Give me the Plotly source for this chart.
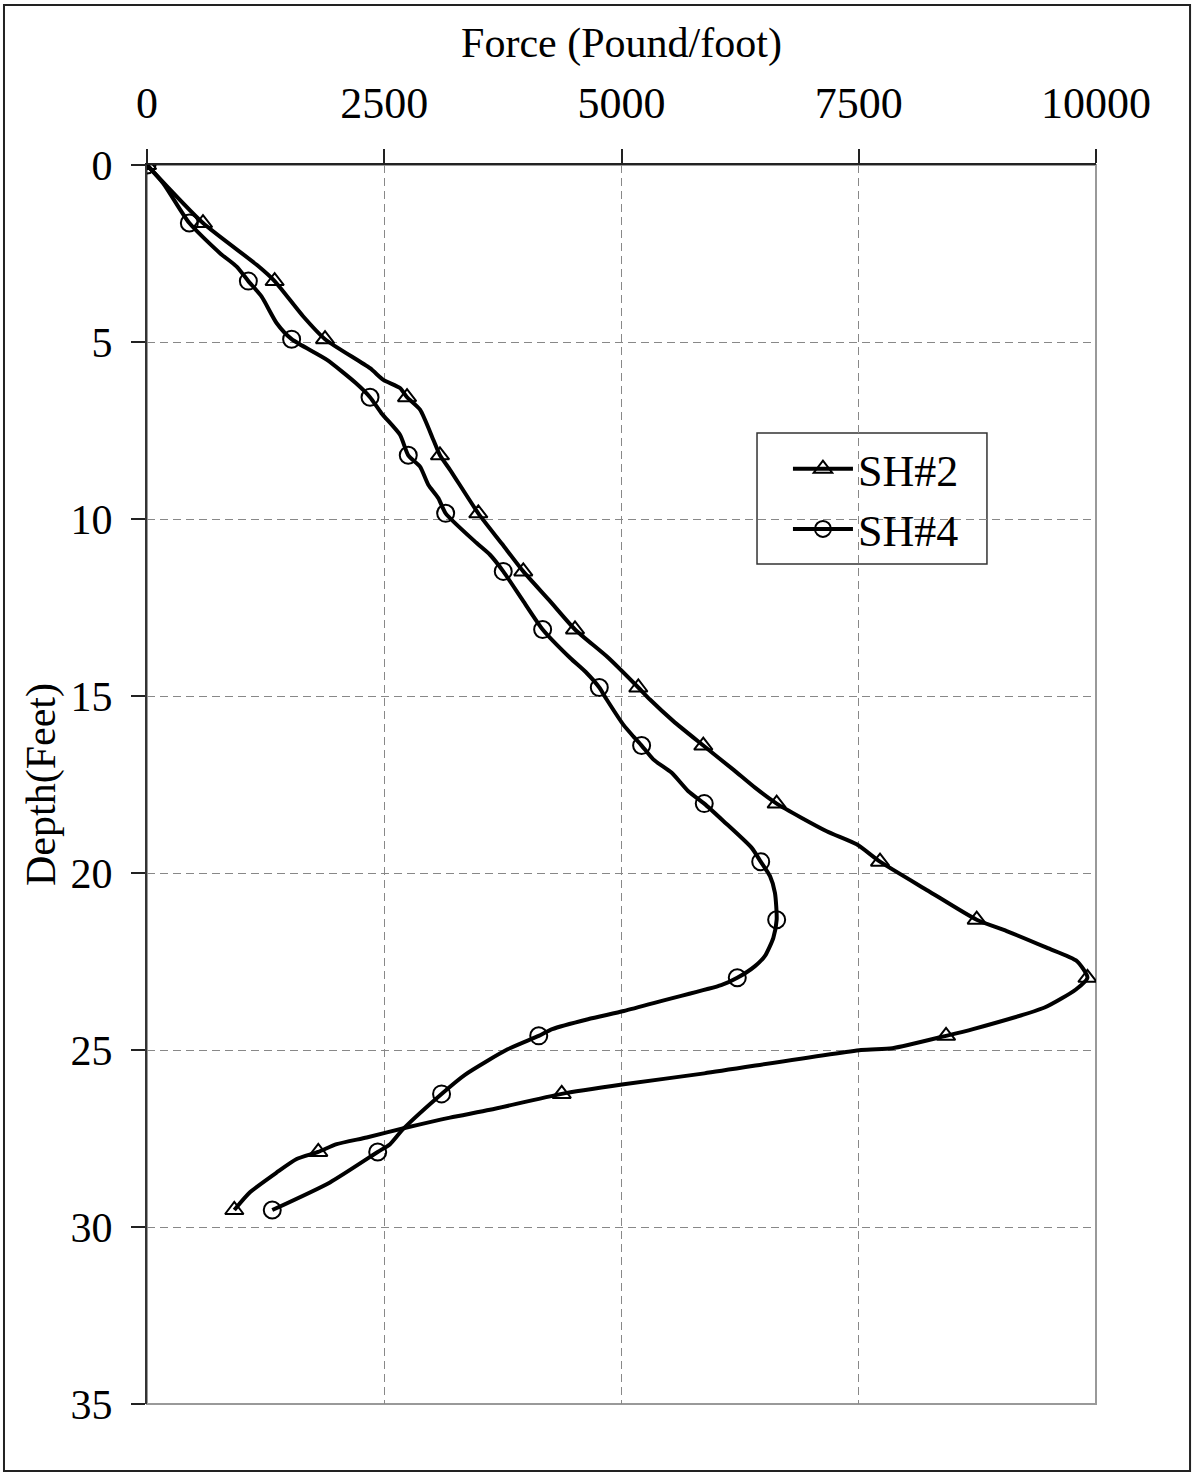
import plotly.graph_objects as go

# ---- data ----
# curve points (dense) for SH#2
sh2_line_depth = [0, 1.64, 2.82, 3.28, 4.28, 4.92, 5.74, 6.07, 6.30, 6.56, 6.91, 7.76, 8.2, 8.61,
                  9.84, 10.7, 11.48, 12.3, 13.12, 13.92, 14.76, 15.1, 15.71, 16.4, 17.08, 17.59,
                  18.04, 18.82, 19.19, 19.68, 20.5, 21.32, 21.64, 22.11, 22.49, 22.96, 23.29, 23.8,
                  24.41, 24.6, 24.95, 25.0, 25.66, 25.97, 26.24, 26.69, 26.91, 27.19, 27.47, 27.66,
                  27.88, 28.08, 28.46, 29.02, 29.52]
sh2_line_force = [0, 590, 1156, 1345, 1647, 1876, 2350, 2490, 2666, 2740, 2877, 3017, 3087, 3193,
                  3491, 3740, 3965, 4240, 4510, 4861, 5177, 5300, 5546, 5862, 6178, 6407,
                  6635, 7162, 7478, 7724, 8230, 8743, 9059, 9480, 9800, 9910, 9788, 9458,
                  8704, 8420, 7854, 7524, 5873, 5024, 4370, 3614, 3193, 2736, 2315, 1999,
                  1805, 1577, 1367, 1085, 920]

# curve points (dense) for SH#4
sh4_line_depth = [0, 0.52, 1.64, 2.49, 2.87, 3.28, 3.72, 4.47, 4.92, 5.50, 6.16, 6.56, 7.01, 7.62,
                  8.2, 8.52, 9.03, 9.41, 9.84, 10.68, 11.01, 11.48, 12.3, 13.12, 13.92, 14.35,
                  14.76, 15.1, 15.81, 16.14, 16.4, 16.79, 17.17, 17.69, 18.04, 18.53, 19.29, 19.68,
                  20.09, 20.56, 21.32, 21.83, 22.34, 22.63, 22.96, 23.17, 23.57, 23.90, 24.13, 24.41,
                  24.6, 24.98, 25.7, 26.24, 27.23, 27.66, 27.88, 28.74, 29.52]
sh4_line_force = [0, 172, 446, 769, 945, 1068, 1208, 1367, 1524, 1893, 2200, 2350, 2470, 2666,
                  2753, 2877, 2964, 3070, 3147, 3474, 3614, 3754, 3960, 4169, 4457, 4633,
                  4766, 4844, 5019, 5124, 5212, 5335, 5529, 5704, 5872, 6073, 6372, 6467,
                  6565, 6617, 6635, 6600, 6512, 6407, 6220, 6050, 5486, 5024, 4647, 4270,
                  4128, 3800, 3350, 3104, 2700, 2561, 2431, 1928, 1320]

# marker points
marker_depth = [0, 1.64, 3.28, 4.92, 6.56, 8.2, 9.84, 11.48, 13.12, 14.76, 16.4, 18.04,
                19.68, 21.32, 22.96, 24.6, 26.24, 27.88, 29.52]
sh2_marker_force = [0, 590, 1345, 1876, 2740, 3087, 3491, 3965, 4510, 5177, 5862, 6635,
                    7724, 8743, 9910, 8420, 4370, 1805, 920]
sh4_marker_force = [0, 446, 1068, 1524, 2350, 2753, 3147, 3754, 4169, 4766, 5212, 5872,
                    6467, 6635, 6220, 4128, 3104, 2431, 1320]

series_names = ["SH#2", "SH#4"]
x_ticks = [0, 2500, 5000, 7500, 10000]
y_ticks = [0, 5, 10, 15, 20, 25, 30, 35]
x_title = "Force (Pound/foot)"
y_title = "Depth(Feet)"

FONT = "Liberation Serif"
LINE_W = 4

fig = go.Figure()

lines = [(sh2_line_force, sh2_line_depth), (sh4_line_force, sh4_line_depth)]
marks = [(sh2_marker_force, "triangle-up-open", 16), (sh4_marker_force, "circle-open", 17)]

for (fx, dy) in lines:
    fig.add_trace(go.Scatter(x=fx, y=dy, mode="lines", showlegend=False,
                             line=dict(color="black", width=LINE_W, shape="spline", smoothing=0.6),
                             hoverinfo="skip"))

for (fx, sym, sz) in marks:
    fig.add_trace(go.Scatter(x=fx, y=marker_depth, mode="markers", showlegend=False,
                             marker=dict(symbol=sym, size=sz, color="black",
                                         line=dict(color="black", width=2))))

# legend entries
for name, (fx, sym, sz) in zip(series_names, marks):
    fig.add_trace(go.Scatter(x=[None], y=[None], mode="lines+markers", name=name,
                             line=dict(color="black", width=LINE_W),
                             marker=dict(symbol=sym, size=sz, color="black",
                                         line=dict(color="black", width=2))))

fig.update_layout(
    width=1197, height=1472,
    margin=dict(l=147, r=101, t=165, b=68),
    paper_bgcolor="white", plot_bgcolor="white",
    font=dict(family=FONT, size=42, color="black"),
    legend=dict(x=0.6754, y=0.7832, xanchor="left", yanchor="top",
                bgcolor="rgba(0,0,0,0)", borderwidth=0,
                font=dict(family=FONT, size=44, color="black"),
                itemwidth=60, tracegroupgap=0),
    xaxis=dict(side="top", range=[0, 10000], tickvals=x_ticks,
               ticktext=[str(v) for v in x_ticks],
               showgrid=True, gridcolor="#888888", gridwidth=1, griddash="8px,5px",
               zeroline=False, showline=True, linecolor="#222222", linewidth=2,
               ticks="outside", ticklen=14, tickwidth=1.5, tickcolor="#222222",
               ticklabelstandoff=13,
               tickfont=dict(family=FONT, size=44, color="black"),
               title=dict(text=x_title, standoff=9, font=dict(family=FONT, size=42, color="black"))),
    yaxis=dict(range=[35, 0], tickvals=y_ticks, ticktext=[str(v) for v in y_ticks],
               showgrid=True, gridcolor="#888888", gridwidth=1, griddash="8px,5px",
               zeroline=False, showline=True, linecolor="#333333", linewidth=2,
               ticks="outside", ticklen=14, tickwidth=1.5, tickcolor="#222222",
               ticklabelstandoff=10,
               tickfont=dict(family=FONT, size=42, color="black"),
               title=dict(text=y_title, standoff=2, font=dict(family=FONT, size=42, color="black"))),
    shapes=[
        # plot area border (right/bottom visible in gray)
        dict(type="rect", xref="x domain", yref="y domain", x0=0, x1=1, y0=0, y1=1,
             line=dict(color="#999999", width=2), layer="below"),
        # legend box (hides grid lines behind the legend)
        dict(type="rect", xref="paper", yref="paper", x0=0.6428, x1=0.8851, y0=0.678, y1=0.7837,
             fillcolor="white", line=dict(color="#333333", width=1.5), layer="between"),
        # outer frame of the whole chart
        dict(type="rect", xref="paper", yref="paper", x0=-0.1507, x1=1.0991, y0=-0.054, y1=1.1291,
             line=dict(color="#222222", width=2)),
    ],
)

fig.write_html("out.html", config={"displayModeBar": False},
               post_script="document.body.style.margin='0px';")
